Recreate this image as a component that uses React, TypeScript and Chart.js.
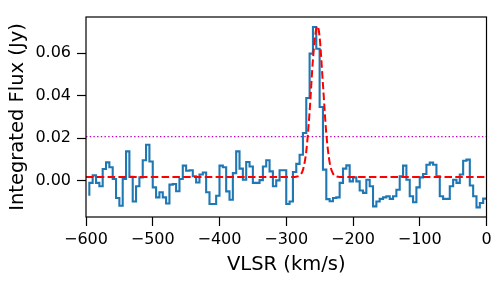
import React, { useEffect, useRef } from 'react';
import { Chart, registerables } from 'chart.js';

Chart.register(...registerables);

// Axis ranges and ticks
const xMin = -600;
const xMax = 0;
const yMin = -0.0169;
const yMax = 0.0769;
const xTicks = [-600, -500, -400, -300, -200, -100, 0];
const yTicks = [0, 0.02, 0.04, 0.06];

// Spectrum binning (km/s)
const vStart = -595;
const binWidth = 5;

// Integrated flux per velocity bin (Jy)
const flux = [
  -0.0069, -0.0009, 0.0026, -0.0009, -0.0025, 0.0056, 0.0087, 0.0064, 0.0009, -0.0080,
  -0.0116, 0.0009, 0.0139, 0.0019, -0.0096, -0.0025, 0.0017, 0.0097, 0.0170, 0.0091,
  -0.0030, -0.0077, -0.0053, -0.0077, -0.0106, -0.0017, -0.0014, -0.0048, 0.0009, 0.0072,
  0.0048, 0.0050, 0.0022, -0.0007, 0.0030, 0.0040, -0.0053, -0.0108, -0.0108, -0.0069,
  0.0072, 0.0064, -0.0049, -0.0088, 0.0037, 0.0139, 0.0058, 0.0006, 0.0089, 0.0068,
  -0.0009, -0.0009, 0.0004, 0.0068, 0.0097, 0.0045, -0.0025, 0.0003, 0.0050, 0.0050,
  -0.0108, -0.0096, 0.0042, 0.0080, 0.0123, 0.0225, 0.0389, 0.0597, 0.0722, 0.0620,
  0.0347, 0.0053, -0.0085, -0.0095, -0.0080, -0.0077, -0.0009, 0.0058, 0.0073, -0.0002,
  0.0017, -0.0002, -0.0045, -0.0056, 0.0006, -0.0025, -0.0119, -0.0096, -0.0084, -0.0077,
  -0.0072, -0.0084, -0.0072, -0.0041, 0.0022, 0.0072, 0.0006, -0.0072, -0.0100, -0.0030,
  0.0017, 0.0033, 0.0076, 0.0086, 0.0076, 0.0022, -0.0072, -0.0084, -0.0084, -0.0025,
  0.0006, -0.0009, 0.0030, 0.0095, 0.0100, -0.0021, -0.0072, -0.0124, -0.0103, -0.0083,
];

// Fitted profile (red dashed)
const fitVelocity = [-600, -290, -285, -280, -275, -270, -265, -260, -255, -253, -250, -245, -240, -235, -230, -225, -220, 0];
const fitFlux = [0.0019, 0.0019, 0.002, 0.0026, 0.0052, 0.0139, 0.0325, 0.057, 0.0715, 0.0725, 0.0675, 0.0452, 0.0222, 0.0087, 0.0035, 0.0022, 0.0019, 0.0019];

// Threshold line (magenta dotted)
const threshold = 0.0208;

const FONT = "'DejaVu Sans', sans-serif";

const framePlugin = {
  id: 'frame',
  afterDraw(chart: any) {
    const { ctx, chartArea } = chart;
    ctx.save();
    ctx.strokeStyle = '#000';
    ctx.lineWidth = 1.2;
    ctx.strokeRect(chartArea.left, chartArea.top, chartArea.right - chartArea.left, chartArea.bottom - chartArea.top);
    ctx.restore();
  },
};

export default function App() {
  const ref = useRef<HTMLCanvasElement>(null);

  useEffect(() => {
    document.body.style.margin = '0';
    const canvas = ref.current;
    if (!canvas) return;

    const stepPoints = flux.map((y, i) => ({ x: Math.min(xMax, Math.max(xMin, vStart + i * binWidth)), y }));
    stepPoints.push({ x: Math.min(xMax, vStart + flux.length * binWidth), y: flux[flux.length - 1] });

    const fitPoints = fitVelocity.map((x, i) => ({ x, y: fitFlux[i] }));
    const thrPoints = [
      { x: xMin, y: threshold },
      { x: xMax, y: threshold },
    ];

    const chart = new Chart(canvas, {
      type: 'line',
      data: {
        datasets: [
          {
            data: fitPoints,
            borderColor: '#ff0000',
            borderWidth: 2,
            borderDash: [7.5, 3.3],
            pointRadius: 0,
            cubicInterpolationMode: 'monotone',
            fill: false,
            order: 0,
          },
          {
            data: thrPoints,
            borderColor: '#bf00bf',
            borderWidth: 1.3,
            borderDash: [1.4, 2.3],
            pointRadius: 0,
            fill: false,
            order: 1,
          },
          {
            data: stepPoints,
            borderColor: '#1f77b4',
            borderWidth: 2.1,
            stepped: 'after',
            pointRadius: 0,
            fill: false,
            order: 2,
          },
        ] as any,
      },
      options: {
        animation: false,
        responsive: false,
        devicePixelRatio: 1,
        layout: { padding: { top: 17, right: 16.5, left: 0, bottom: 0 } },
        plugins: {
          legend: { display: false },
          tooltip: { enabled: false },
        },
        scales: {
          x: {
            type: 'linear',
            min: xMin,
            max: xMax,
            afterBuildTicks: (scale: any) => {
              scale.ticks = xTicks.map((v) => ({ value: v }));
            },
            afterFit: (scale: any) => {
              scale.height = 64;
            },
            border: { display: false },
            grid: {
              display: true,
              drawOnChartArea: false,
              drawTicks: true,
              tickLength: 9,
              tickWidth: 1.2,
              tickColor: '#000',
            },
            ticks: {
              color: '#000',
              font: { family: FONT, size: 16 },
              padding: 4,
              maxRotation: 0,
              autoSkip: false,
              callback: (v: any) => (Number(v) < 0 ? '\u2212' + Math.abs(Number(v)) : String(v)),
            },
            title: {
              display: true,
              text: 'VLSR (km/s)',
              color: '#000',
              font: { family: FONT, size: 19.5 },
              padding: { top: 0, bottom: 4 },
            },
          },
          y: {
            type: 'linear',
            min: yMin,
            max: yMax,
            afterBuildTicks: (scale: any) => {
              scale.ticks = yTicks.map((v) => ({ value: v }));
            },
            afterFit: (scale: any) => {
              scale.width = 86;
            },
            border: { display: false },
            grid: {
              display: true,
              drawOnChartArea: false,
              drawTicks: true,
              tickLength: 9,
              tickWidth: 1.2,
              tickColor: '#000',
            },
            ticks: {
              color: '#000',
              font: { family: FONT, size: 16 },
              padding: 6,
              autoSkip: false,
              callback: (v: any) => Number(v).toFixed(2),
            },
            title: {
              display: true,
              text: 'Integrated Flux (Jy)',
              color: '#000',
              font: { family: FONT, size: 19.5 },
              padding: { top: 6, bottom: 0 },
            },
          },
        },
      } as any,
      plugins: [framePlugin],
    });

    return () => chart.destroy();
  }, []);

  return (
    <div style={{ position: 'absolute', left: 0, top: 0, width: 503, height: 281 }}>
      <canvas ref={ref} width={503} height={281} style={{ width: 503, height: 281 }} />
    </div>
  );
}
